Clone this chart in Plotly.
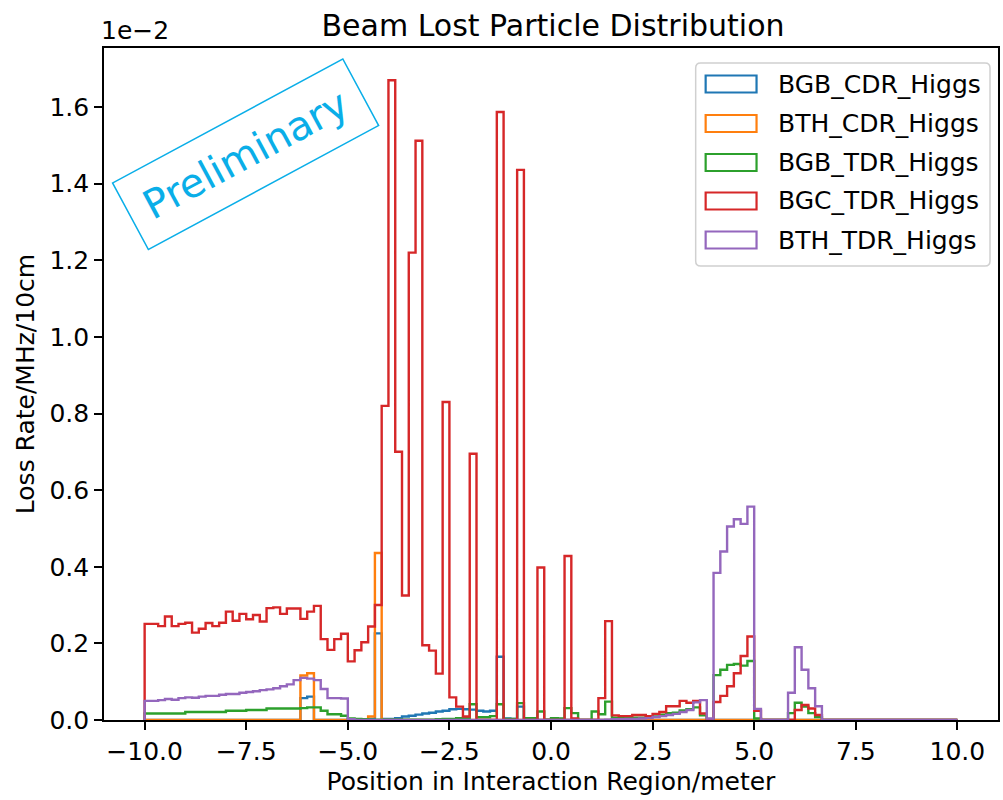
import plotly.graph_objects as go

# ---------------- data (values in units of 1e-2 MHz / bin) ----------------
bin_start = -10.0
bin_width = 1.0 / 6.0
n_bins = 120

bgb_cdr_higgs = [
    0, 0, 0, 0, 0, 0, 0, 0, 0, 0, 0, 0, 0, 0, 0, 0, 0, 0, 0, 0,
    0, 0, 0, 0.057, 0.061, 0, 0, 0, 0, 0, 0.002, 0.002, 0.002, 0.003, 0.226, 0.003, 0.003, 0.005, 0.009, 0.011,
    0.014, 0.017, 0.019, 0.022, 0.024, 0.028, 0.029, 0.028, 0.027, 0.024, 0.022, 0.024, 0.165, 0.004, 0.003, 0.035, 0, 0, 0, 0,
    0, 0, 0, 0, 0, 0, 0, 0, 0, 0, 0, 0, 0, 0, 0, 0, 0, 0, 0, 0,
    0, 0, 0, 0, 0, 0, 0, 0, 0, 0, 0, 0, 0, 0, 0, 0, 0, 0, 0, 0,
    0, 0, 0, 0, 0, 0, 0, 0, 0, 0, 0, 0, 0, 0, 0, 0, 0, 0, 0, 0,
]

bth_cdr_higgs = [
    0, 0, 0, 0, 0, 0, 0, 0, 0, 0, 0, 0, 0, 0, 0, 0, 0, 0, 0, 0,
    0, 0, 0, 0.116, 0.122, 0, 0, 0, 0, 0, 0, 0, 0, 0.009, 0.436, 0, 0, 0, 0, 0,
    0, 0, 0, 0, 0, 0, 0, 0, 0, 0, 0, 0, 0, 0, 0, 0, 0, 0, 0, 0,
    0, 0, 0, 0, 0, 0, 0, 0, 0, 0, 0, 0, 0, 0, 0, 0, 0, 0, 0, 0,
    0, 0, 0, 0, 0, 0, 0, 0, 0, 0, 0, 0, 0, 0, 0, 0, 0, 0, 0, 0,
    0, 0, 0, 0, 0, 0, 0, 0, 0, 0, 0, 0, 0, 0, 0, 0, 0, 0, 0, 0,
]

bgb_tdr_higgs = [
    0.017, 0.017, 0.017, 0.017, 0.017, 0.017, 0.021, 0.021, 0.021, 0.021, 0.021, 0.021, 0.024, 0.024, 0.024, 0.026, 0.026, 0.026, 0.030, 0.030,
    0.030, 0.030, 0.030, 0.031, 0.033, 0.033, 0.024, 0.015, 0.015, 0.011, 0.004, 0.003, 0.002, 0.001, 0.001, 0.001, 0.001, 0.001, 0.001, 0.001,
    0.001, 0.001, 0.001, 0.002, 0.003, 0.003, 0.005, 0.006, 0.041, 0.007, 0.007, 0.010, 0.041, 0.003, 0.003, 0.044, 0.005, 0.005, 0.022, 0.001,
    0.005, 0.004, 0.031, 0.018, 0, 0, 0.022, 0.015, 0.048, 0.006, 0.006, 0.006, 0.006, 0.006, 0.009, 0.009, 0.014, 0.018, 0.019, 0.025,
    0.028, 0.033, 0.012, 0.002, 0.117, 0.131, 0.144, 0.146, 0.142, 0.154, 0.004, 0, 0, 0, 0, 0.018, 0.045, 0.035, 0.018, 0.008,
    0, 0, 0, 0, 0, 0, 0, 0, 0, 0, 0, 0, 0, 0, 0, 0, 0, 0, 0, 0,
]

bgc_tdr_higgs = [
    0.251, 0.251, 0.245, 0.270, 0.245, 0.251, 0.254, 0.228, 0.238, 0.253, 0.245, 0.254, 0.283, 0.259, 0.277, 0.263, 0.274, 0.257, 0.292, 0.294,
    0.277, 0.291, 0.291, 0.264, 0.283, 0.298, 0.211, 0.183, 0.211, 0.225, 0.153, 0.182, 0.203, 0.244, 0.300, 0.820, 1.670, 0.700, 0.325, 1.220,
    1.512, 0.195, 0.181, 0.121, 0.830, 0.059, 0.035, 0.009, 0.695, 0, 0, 0, 1.587, 0, 0, 1.436, 0, 0, 0.398, 0,
    0, 0, 0.428, 0.004, 0, 0, 0, 0.057, 0.258, 0.012, 0.010, 0.010, 0.013, 0.013, 0.010, 0.016, 0.021, 0.036, 0.036, 0.050,
    0.045, 0.050, 0.017, 0.001, 0.047, 0.063, 0.088, 0.122, 0.167, 0.218, 0.024, 0, 0, 0, 0, 0, 0.026, 0.039, 0.030, 0.013,
    0, 0, 0, 0, 0, 0, 0, 0, 0, 0, 0, 0, 0, 0, 0, 0, 0, 0, 0, 0,
]

bth_tdr_higgs = [
    0.050, 0.050, 0.052, 0.055, 0.053, 0.057, 0.059, 0.058, 0.061, 0.063, 0.063, 0.066, 0.068, 0.068, 0.071, 0.073, 0.075, 0.078, 0.080, 0.083,
    0.088, 0.093, 0.104, 0.110, 0.108, 0.104, 0.081, 0.057, 0.057, 0.056, 0.002, 0, 0, 0, 0, 0, 0, 0, 0, 0,
    0, 0, 0, 0, 0, 0, 0, 0, 0, 0, 0, 0, 0, 0, 0, 0, 0, 0, 0, 0,
    0, 0, 0, 0, 0, 0, 0, 0, 0.001, 0.002, 0.002, 0.003, 0.003, 0.004, 0.005, 0.008, 0.010, 0.013, 0.016, 0.021,
    0.026, 0.046, 0.052, 0.004, 0.384, 0.440, 0.505, 0.524, 0.512, 0.557, 0.029, 0, 0, 0, 0, 0.071, 0.190, 0.131, 0.083, 0.036,
    0, 0, 0, 0, 0, 0, 0, 0, 0, 0, 0, 0, 0, 0, 0, 0, 0, 0, 0, 0,
]

series_names = ["BGB_CDR_Higgs", "BTH_CDR_Higgs", "BGB_TDR_Higgs", "BGC_TDR_Higgs", "BTH_TDR_Higgs"]
series_values = [bgb_cdr_higgs, bth_cdr_higgs, bgb_tdr_higgs, bgc_tdr_higgs, bth_tdr_higgs]
series_colors = ["#1f77b4", "#ff7f0e", "#2ca02c", "#d62728", "#9467bd"]

x_tick_vals = [-10, -7.5, -5, -2.5, 0, 2.5, 5, 7.5, 10]
x_tick_text = ["\u221210.0", "\u22127.5", "\u22125.0", "\u22122.5", "0.0", "2.5", "5.0", "7.5", "10.0"]
y_tick_vals = [0, 0.2, 0.4, 0.6, 0.8, 1.0, 1.2, 1.4, 1.6]
y_tick_text = ["0.0", "0.2", "0.4", "0.6", "0.8", "1.0", "1.2", "1.4", "1.6"]

# ---------------- figure ----------------
edges = [bin_start + i * bin_width for i in range(n_bins + 1)]

W, H = 1003, 800
ML, MR, MT, MB = 104, 3, 48, 80
PW, PH = W - ML - MR, H - MT - MB
FS = 25


def px(xp):
    return (xp - ML) / PW


def py(yp):
    return (H - MB - yp) / PH


fig = go.Figure()
for name, vals, col in zip(series_names, series_values, series_colors):
    xs = [edges[0]] + edges[:-1] + [edges[-1]]
    ys = [0] + list(vals) + [0]
    fig.add_trace(go.Scatter(x=xs, y=ys, mode="lines", name=name,
                             line=dict(color=col, width=2.4, shape="hv"),
                             showlegend=False, hoverinfo="skip"))

font_family = "DejaVu Sans"

fig.update_layout(
    width=W, height=H,
    margin=dict(l=ML, r=MR, t=MT, b=MB),
    paper_bgcolor="white", plot_bgcolor="white",
    font=dict(family=font_family, size=FS, color="black"),
    title=dict(text="Beam Lost Particle Distribution", x=px(554), xref="paper", xanchor="center",
               y=1 - 25 / H, yref="container", yanchor="middle",
               font=dict(size=30, family=font_family, color="black")),
    showlegend=False,
)

fig.update_xaxes(range=[-11, 11], tickvals=x_tick_vals, ticktext=x_tick_text,
                 ticks="outside", ticklen=8, tickwidth=1.6, tickcolor="black",
                 showline=True, linecolor="black", linewidth=1.6, mirror=True,
                 showgrid=False, zeroline=False, layer="above traces",
                 tickfont=dict(size=FS),
                 title=dict(text="Position in Interaction Region/meter", standoff=8, font=dict(size=FS)))
fig.update_yaxes(range=[0, 1.754], tickvals=y_tick_vals, ticktext=y_tick_text,
                 ticks="outside", ticklen=8, tickwidth=1.6, tickcolor="black",
                 showline=True, linecolor="black", linewidth=1.6, mirror=True,
                 showgrid=False, zeroline=False, layer="above traces",
                 tickfont=dict(size=FS),
                 title=dict(text="Loss Rate/MHz/10cm", standoff=8, font=dict(size=FS)))

# offset text
fig.add_annotation(text="1e\u22122", xref="paper", yref="paper", x=0, y=1,
                   xanchor="left", yanchor="bottom", xshift=-5, yshift=1,
                   showarrow=False, font=dict(size=FS, family=font_family, color="black"))

# Preliminary stamp
fig.add_annotation(text="Preliminary", xref="paper", yref="paper",
                   x=px(245.5), y=py(154.2), xanchor="center", yanchor="middle",
                   showarrow=False, textangle=-28.3,
                   font=dict(size=40, family=font_family, color="#0aaee8"),
                   bordercolor="#0aaee8", borderwidth=1.5, borderpad=11,
                   width=238, height=52, bgcolor="rgba(0,0,0,0)")

# legend (drawn in paper coordinates)
lx0, lx1, ly0, ly1, r = 697, 992, 63, 266, 5
path = (f"M {px(lx0 + r)},{py(ly0)} L {px(lx1 - r)},{py(ly0)} Q {px(lx1)},{py(ly0)} {px(lx1)},{py(ly0 + r)} "
        f"L {px(lx1)},{py(ly1 - r)} Q {px(lx1)},{py(ly1)} {px(lx1 - r)},{py(ly1)} "
        f"L {px(lx0 + r)},{py(ly1)} Q {px(lx0)},{py(ly1)} {px(lx0)},{py(ly1 - r)} "
        f"L {px(lx0)},{py(ly0 + r)} Q {px(lx0)},{py(ly0)} {px(lx0 + r)},{py(ly0)} Z")
fig.add_shape(type="path", path=path, xref="paper", yref="paper",
              line=dict(color="#d0d0d0", width=1.5), fillcolor="rgba(255,255,255,0.8)", layer="above")
centers = [84, 123.5, 162.5, 201, 240]
for name, col, cy in zip(series_names, series_colors, centers):
    fig.add_shape(type="rect", xref="paper", yref="paper",
                  x0=px(707), x1=px(758), y0=py(cy - 8.5), y1=py(cy + 8.5),
                  line=dict(color=col, width=2.2), fillcolor="rgba(0,0,0,0)", layer="above")
    fig.add_annotation(text=name, xref="paper", yref="paper", x=px(778), y=py(cy),
                       xanchor="left", yanchor="middle", showarrow=False,
                       font=dict(size=FS, family=font_family, color="black"))

fig.write_html("out.html")
